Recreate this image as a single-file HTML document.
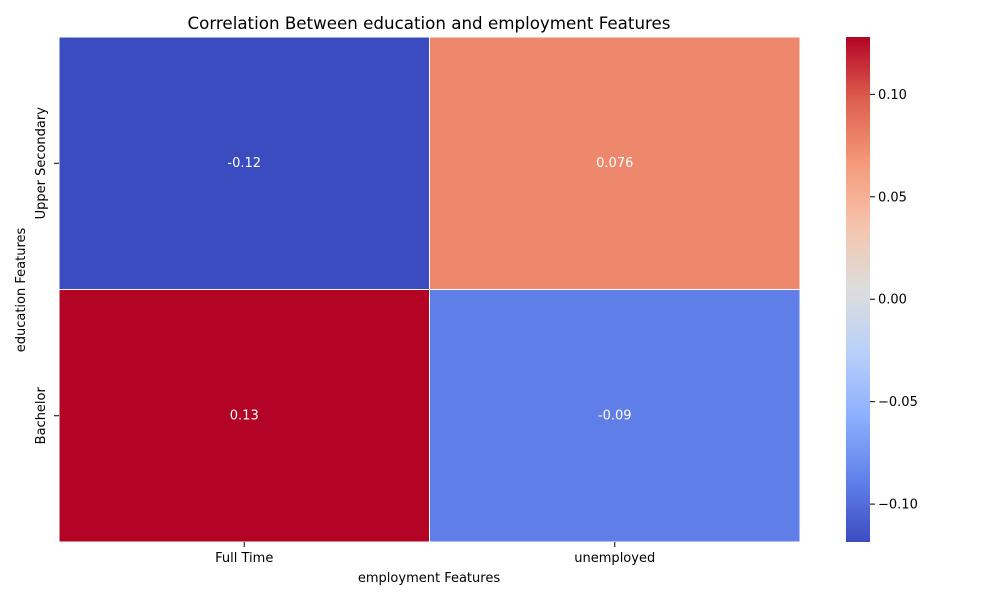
<!DOCTYPE html>
<html><head><meta charset="utf-8"><style>
body{margin:0;background:#fff;}
svg{display:block;font-family:"DejaVu Sans","Liberation Sans",sans-serif;}
</style></head><body>
<svg id="chart" width="1000" height="600">
<defs><linearGradient id="cw" x1="0" y1="1" x2="0" y2="0"></linearGradient></defs>
<text x="429" y="29" text-anchor="middle" font-size="16.7" fill="#000">Correlation Between education and employment Features</text>
<g id="cells"></g>
<g id="xaxis"></g>
<g id="yaxis"></g>
<text x="429" y="582" text-anchor="middle" font-size="13">employment Features</text>
<text transform="translate(25,290) rotate(-90)" text-anchor="middle" font-size="13">education Features</text>
<g id="cbar"></g>
</svg>
<script>
const xCategories=["Full Time","unemployed"];
const yCategories=["Upper Secondary","Bachelor"];
const values=[[-0.1185,0.076],[0.128,-0.09]];
const labels=[["-0.12","0.076"],["0.13","-0.09"]];
const cbarTicks=[0.10,0.05,0.00,-0.05,-0.10];
const cbarTickLabels=["0.10","0.05","0.00","\u22120.05","\u22120.10"];

const vmin=Math.min(...values.flat()), vmax=Math.max(...values.flat());
const X0=59,X1=800,Y0=37,Y1=542;
const ns="http://www.w3.org/2000/svg";
const anchors=[[59,76,192],[98,130,234],[141,176,254],[184,208,249],[221,221,221],[245,196,173],[244,154,123],[222,96,77],[180,4,38]];
function cw(t){t=Math.max(0,Math.min(1,t));const p=t*8,i=Math.min(7,Math.floor(p)),f=p-i;const a=anchors[i],b=anchors[i+1];return`rgb(${a.map((v,k)=>Math.round(v+(b[k]-v)*f)).join(',')})`;}
const cwid=(X1-X0)/xCategories.length, chei=(Y1-Y0)/yCategories.length;
function xPos(i){return X0+i*cwid;} function yPos(j){return Y0+j*chei;}
function mk(tag,attrs,parent){const e=document.createElementNS(ns,tag);for(const k in attrs)e.setAttribute(k,attrs[k]);parent.appendChild(e);return e;}
const cells=document.getElementById('cells');
yCategories.forEach((yc,j)=>xCategories.forEach((xc,i)=>{
  const v=values[j][i];
  const r=mk('rect',{x:xPos(i),y:yPos(j),width:cwid,height:chei,fill:cw((v-vmin)/(vmax-vmin)),stroke:'#fff','stroke-width':1},cells);
  
  
  const t=mk('text',{x:xPos(i)+cwid/2,y:yPos(j)+chei/2+3.5,'text-anchor':'middle','font-size':13,fill:'#fff'},cells);
  t.textContent=labels[j][i];
  
  
}));
const xa=document.getElementById('xaxis');
xCategories.forEach((c,i)=>{const cx=xPos(i)+cwid/2;
  mk('line',{x1:cx,x2:cx,y1:Y1,y2:Y1+5,stroke:'#000'},xa);
  const t=mk('text',{x:cx,y:Y1+20,'text-anchor':'middle','font-size':13},xa);t.textContent=c;
  
  });
const ya=document.getElementById('yaxis');
yCategories.forEach((c,j)=>{const cy=yPos(j)+chei/2;
  mk('line',{x1:X0-5,x2:X0,y1:cy,y2:cy,stroke:'#000'},ya);
  const t=mk('text',{transform:`translate(${X0-14},${cy}) rotate(-90)`,'text-anchor':'middle','font-size':13},ya);t.textContent=c;
  
  });
const g=document.getElementById('cw');
for(let k=0;k<=16;k++){mk('stop',{offset:k/16,'stop-color':cw(k/16)},g);}
const cb=document.getElementById('cbar');
const CX=846,CW=24;
const bar=mk('rect',{x:CX,y:Y0,width:CW,height:Y1-Y0,fill:'url(#cw)'},cb);


function cy(v){return Y1-(v-vmin)/(vmax-vmin)*(Y1-Y0);}
cbarTicks.forEach((v,k)=>{const y=cy(v);
  mk('line',{x1:CX+CW,x2:CX+CW+5,y1:y,y2:y,stroke:'#000'},cb);
  const t=mk('text',{x:CX+CW+8,y:y+4.5,'font-size':13},cb);t.textContent=cbarTickLabels[k];
  
  });
</script>
</body></html>
